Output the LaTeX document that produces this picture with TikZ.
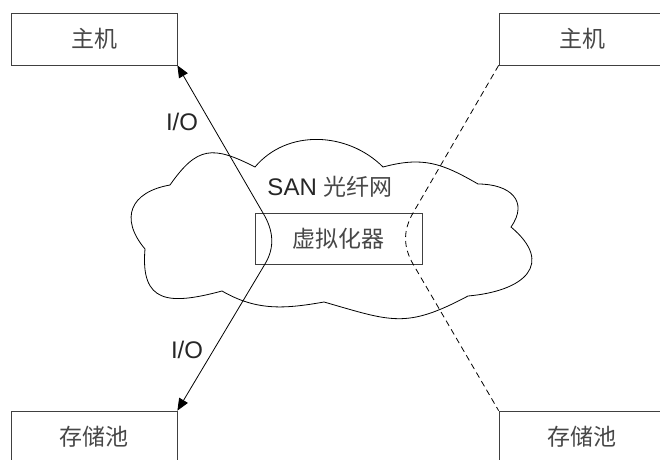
\documentclass[tikz,border=0pt]{standalone}
\usepackage{fontspec}
\setmainfont{Liberation Sans}
\newfontfamily\cjk{Noto Sans CJK SC}
\usetikzlibrary{arrows.meta}

\begin{document}
\begin{tikzpicture}[x=1pt, y=1pt, line width=0.8pt, >={Triangle[length=12pt, width=10pt]},
		every node/.style={font=\fontsize{24}{28}\selectfont, text=black!85},
		box/.style={draw=black!75, minimum width=166pt, minimum height=52pt, inner sep=0pt, text=black!72, font=\fontsize{23}{27}\selectfont\cjk}]
		\useasboundingbox (0,0) rectangle (660,459);
		\clip (0,0) rectangle (660,459);

		\coordinate (hostl)  at (94,  420);
		\coordinate (hostr)  at (582, 420);
		\coordinate (pooll)  at (94,  22);
		\coordinate (poolr)  at (582, 22);
		\coordinate (virt)   at (338.5, 220.5);
		\coordinate (iotop)  at (263, 246);
		\coordinate (iobot)  at (265, 195);
		\coordinate (dtop)   at (413, 246);
		\coordinate (dbot)   at (413, 195);

		% cloud
		\draw (145,210) to[out=130, in=190, looseness=1.5] (170,274)
			to[out=55, in=153, looseness=1.4] (255,292)
			to[out=50, in=135] (383,292)
			to[out=15, in=150, looseness=1.1] (478,275)
			to[out=0, in=55, looseness=1.5] (511,232)
			to[out=-40, in=5, looseness=1.8] (468,163)
			to[out=208, in=-16, looseness=1.25] (324,157)
			to[out=190, in=-30] (222,168)
			to[out=195, in=265, looseness=1.6] (145,210);

		\node[box] (HOSTL) at (hostl) {主机};
		\node[box] (HOSTR) at (hostr) {主机};
		\node[box] (POOLL) at (pooll) {存储池};
		\node[box] (POOLR) at (poolr) {存储池};
		\node[box, minimum width=167pt, minimum height=51pt] (VIRT) at (virt) {虚拟化器};

		\node (SAN) at (330, 272) {SAN {\fontsize{23}{27}\selectfont\cjk\color{black!72} 光纤网}};
		\node (IOA) at (182, 337) {I/O};
		\node (IOB) at (187, 109) {I/O};

		\draw[<->] (HOSTL.south east) -- (iotop) to[out=-59, in=59] (iobot) -- (POOLL.north east);
		\draw[dash pattern=on 6pt off 4pt] (HOSTR.south west) -- (dtop) to[out=-120, in=120] (dbot) -- (POOLR.north west);
	\end{tikzpicture}
\end{document}
